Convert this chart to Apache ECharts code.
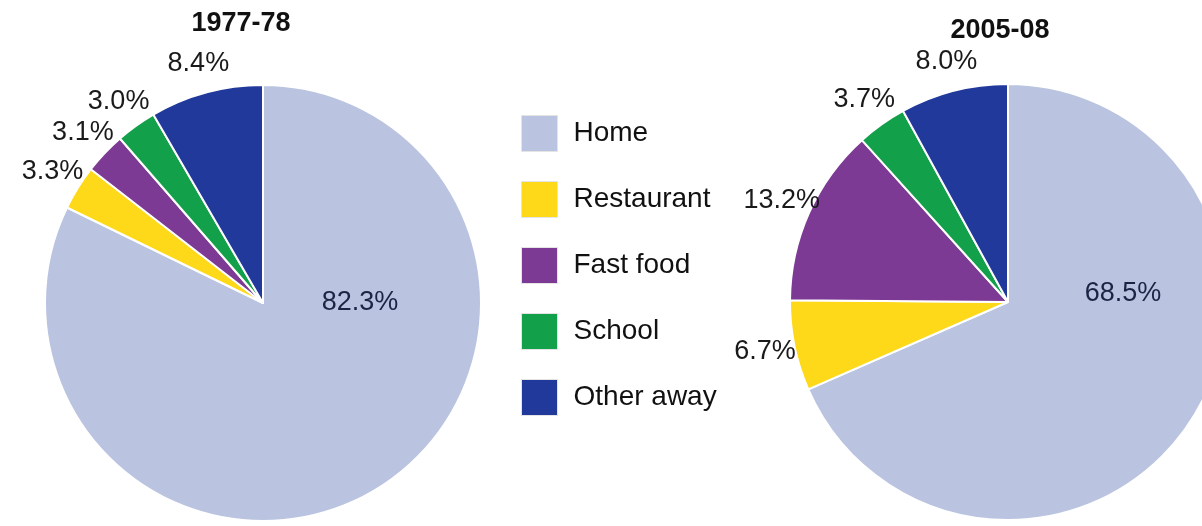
<!DOCTYPE html>
<html>
<head>
<meta charset="utf-8">
<script src="https://cdn.jsdelivr.net/npm/echarts@6/dist/echarts.min.js"></script>
<style>
html,body{margin:0;padding:0;background:#fff;}
#chart{width:1202px;height:526px;}
</style>
</head>
<body>
<div id="chart"></div>
<script>
const categories = ['Home', 'Restaurant', 'Fast food', 'School', 'Other away'];
const values1977 = [82.3, 3.3, 3.1, 3.0, 8.4];
const values2005 = [68.5, 6.7, 13.2, 3.7, 8.0];
const titles = ['1977-78', '2005-08'];
const colors = ['#bac4e0', '#fdd91a', '#7c3a94', '#13a04a', '#20399a'];

const FONT = '"Liberation Sans", Arial, Helvetica, sans-serif';
const R = 218;

function mainPie(values, center, homeDx, homeDy) {
  return {
    type: 'pie',
    center: center,
    radius: [0, R],
    startAngle: 90,
    clockwise: true,
    silent: true,
    animation: false,
    itemStyle: { borderColor: '#ffffff', borderWidth: 2 },
    label: { show: false },
    labelLine: { show: false },
    labelLayout: function (p) {
      if (p.dataIndex === 0) return { dx: homeDx, dy: homeDy };
    },
    data: categories.map((c, i) => ({
      name: c,
      value: values[i],
      itemStyle: { color: colors[i] },
      label: i === 0 ? {
        show: true, position: 'center',
        formatter: v => v.value.toFixed(1) + '%',
        fontFamily: FONT, fontSize: 27, color: '#1c2445', fontWeight: 'normal'
      } : { show: false }
    }))
  };
}

function labelPie(values, center) {
  return {
    type: 'pie',
    center: center,
    radius: [R, R + 54],
    startAngle: 90,
    clockwise: true,
    silent: true,
    animation: false,
    itemStyle: { color: 'rgba(0,0,0,0)', borderWidth: 0 },
    labelLine: { show: false },
    label: {
      show: true, position: 'inside', rotate: 0,
      formatter: v => v.value.toFixed(1) + '%',
      fontFamily: FONT, fontSize: 27, color: '#1a1a1a'
    },
    data: categories.map((c, i) => ({
      name: c + ' ',
      value: values[i],
      label: { show: i !== 0 }
    }))
  };
}

const chart = echarts.init(document.getElementById('chart'), null, { renderer: 'canvas' });
chart.setOption({
  animation: false,
  backgroundColor: '#ffffff',
  title: [
    { text: titles[0], left: 241, top: 10, padding: 0, textAlign: 'center',
      textStyle: { fontFamily: FONT, fontSize: 27, fontWeight: 'bold', color: '#111' } },
    { text: titles[1], left: 1000, top: 17, padding: 0, textAlign: 'center',
      textStyle: { fontFamily: FONT, fontSize: 27, fontWeight: 'bold', color: '#111' } }
  ],
  legend: {
    orient: 'vertical',
    left: 521,
    top: 115,
    padding: 0,
    itemWidth: 36,
    itemHeight: 36,
    itemGap: 29,
    icon: 'rect',
    selectedMode: false,
    textStyle: { fontFamily: FONT, fontSize: 28, color: '#111', padding: [0, 0, 0, 11] },
    data: categories.map((c, i) => ({
      name: c,
      itemStyle: { color: colors[i], borderColor: '#e4e4e4', borderWidth: 1 }
    }))
  },
  series: [
    mainPie(values1977, [263, 303], 97, 0),
    mainPie(values2005, [1008, 302], 115, -8),
    labelPie(values1977, [263, 303]),
    labelPie(values2005, [1008, 302])
  ]
});
</script>
</body>
</html>
